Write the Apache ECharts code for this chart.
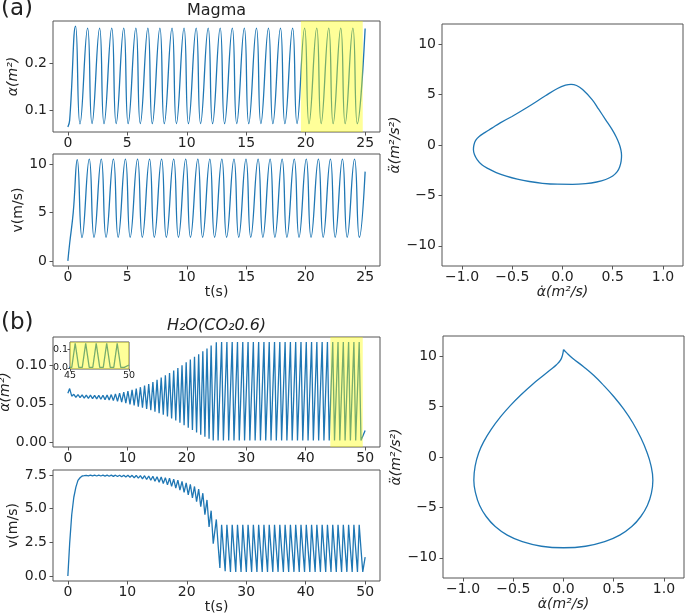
<!DOCTYPE html>
<html><head><meta charset="utf-8">
<script src="https://cdn.jsdelivr.net/npm/echarts@6/dist/echarts.min.js"></script>
<style>html,body{margin:0;padding:0;background:#fff}#c{width:685px;height:614px}</style>
</head><body><div id="c"></div>
<script>
// ---------- (a) Magma : alpha(t) ----------
const aAlphaT = [0, 0.15, 0.65, 1.02, 1.66, 2.03, 2.67, 3.04, 3.69, 4.06, 4.70, 5.07, 5.72, 6.09, 6.73, 7.10, 7.74, 8.11, 8.76, 9.13, 9.77, 10.14, 10.79, 11.16, 11.80, 12.17, 12.81, 13.18, 13.83, 14.20, 14.84, 15.21, 15.86, 16.23, 16.87, 17.24, 17.88, 18.25, 18.90, 19.27, 19.91, 20.28, 20.93, 21.30, 21.94, 22.31, 22.95, 23.32, 23.97, 24.34, 25.00];
const aAlphaV = [0.064, 0.078, 0.279, 0.0705, 0.2745, 0.0712, 0.2745, 0.0712, 0.2745, 0.0712, 0.2745, 0.0712, 0.2745, 0.0712, 0.2745, 0.0712, 0.2745, 0.0712, 0.2745, 0.0712, 0.2745, 0.0712, 0.2745, 0.0712, 0.2745, 0.0712, 0.2745, 0.0712, 0.2745, 0.0712, 0.2745, 0.0712, 0.2745, 0.0712, 0.2745, 0.0712, 0.2745, 0.0712, 0.2745, 0.0712, 0.2745, 0.0712, 0.2745, 0.0712, 0.2745, 0.0712, 0.2745, 0.0712, 0.2745, 0.0712, 0.274];
// ---------- (a) Magma : v(t) ----------
const aVT = [0, 0.15, 0.45, 0.79, 1.19, 1.80, 2.20, 2.81, 3.21, 3.83, 4.23, 4.84, 5.24, 5.86, 6.26, 6.87, 7.27, 7.88, 8.28, 8.90, 9.30, 9.91, 10.31, 10.93, 11.33, 11.94, 12.34, 12.95, 13.35, 13.97, 14.37, 14.98, 15.38, 16.00, 16.40, 17.01, 17.41, 18.02, 18.42, 19.04, 19.44, 20.05, 20.45, 21.07, 21.47, 22.08, 22.48, 23.09, 23.49, 24.11, 24.51, 25.00];
const aVV = [0, 1.8, 5.0, 10.5, 2.42, 10.55, 2.45, 10.55, 2.45, 10.55, 2.45, 10.55, 2.45, 10.55, 2.45, 10.55, 2.45, 10.55, 2.45, 10.55, 2.45, 10.55, 2.45, 10.55, 2.45, 10.55, 2.45, 10.55, 2.45, 10.55, 2.45, 10.55, 2.45, 10.55, 2.45, 10.55, 2.45, 10.55, 2.45, 10.55, 2.45, 10.55, 2.45, 10.55, 2.45, 10.55, 2.45, 10.55, 2.45, 10.55, 2.45, 9.25];
// ---------- (a) phase portrait ----------
const aPhaseX = [-0.503, -0.337, -0.17, -0.05, 0.03, 0.085, 0.14, 0.2, 0.297, 0.36, 0.43, 0.49, 0.535, 0.565, 0.582, 0.588, 0.584, 0.57, 0.545, 0.5, 0.43, 0.34, 0.23, 0.1, -0.05, -0.2, -0.33, -0.45, -0.56, -0.66, -0.74, -0.803, -0.85, -0.877, -0.887, -0.882, -0.865, -0.83, -0.77, -0.703, -0.62, -0.503];
const aPhaseY = [2.83, 3.82, 4.88, 5.6, 5.93, 6.02, 5.9, 5.5, 4.48, 3.55, 2.5, 1.6, 0.8, 0.1, -0.5, -1.05, -1.6, -2.15, -2.65, -3.08, -3.42, -3.67, -3.83, -3.9, -3.89, -3.8, -3.62, -3.38, -3.08, -2.73, -2.35, -1.97, -1.45, -0.95, -0.45, 0.0, 0.45, 0.85, 1.25, 1.67, 2.2, 2.83];

// ---------- (b) H2O(CO2 0.6) : growth phase ----------
const bPreT = [0, 0.30, 0.65, 1.00, 1.35, 1.70, 2.05, 2.40, 2.75, 3.10, 3.45, 3.80, 4.15, 4.50, 4.85, 5.20, 5.55, 5.90, 6.25, 6.60, 6.95, 7.30, 7.65, 8.00, 8.35, 8.70, 9.05, 9.40, 9.75, 10.10, 10.45, 10.80, 11.15, 11.50, 11.85, 12.20, 12.55, 12.90, 13.25, 13.60, 13.95, 14.30, 14.65, 15.00, 15.35, 15.70, 16.05, 16.40, 16.75, 17.10, 17.45, 17.80, 18.15, 18.50, 18.85, 19.20, 19.55, 19.90, 20.25, 20.60, 20.95, 21.30, 21.65, 22.00, 22.35, 22.70, 23.05, 23.40, 23.75, 24.10, 24.45];
const bPreAlpha = [0.064, 0.070, 0.0600, 0.0625, 0.0585, 0.0622, 0.0580, 0.0618, 0.0576, 0.0615, 0.0572, 0.0613, 0.0568, 0.0611, 0.0564, 0.0610, 0.0560, 0.0612, 0.0555, 0.0616, 0.0549, 0.0621, 0.0542, 0.0630, 0.0533, 0.0640, 0.0522, 0.0653, 0.0508, 0.0668, 0.0494, 0.0683, 0.0479, 0.0700, 0.0464, 0.0718, 0.0449, 0.0738, 0.0433, 0.0760, 0.0416, 0.0785, 0.0398, 0.0815, 0.0378, 0.0845, 0.0356, 0.0875, 0.0333, 0.0905, 0.0308, 0.0935, 0.0281, 0.0968, 0.0252, 0.1005, 0.0220, 0.1045, 0.0188, 0.1080, 0.0156, 0.1115, 0.0125, 0.1150, 0.0096, 0.1188, 0.0068, 0.1225, 0.0043, 0.1265, 0.0020];
const bPreV = [0, 2.4, 4.55, 5.85, 6.6, 7.1, 7.3, 7.43, 7.45, 7.48, 7.44, 7.49, 7.44, 7.49, 7.43, 7.49, 7.43, 7.49, 7.42, 7.49, 7.41, 7.49, 7.40, 7.49, 7.39, 7.49, 7.37, 7.49, 7.35, 7.48, 7.33, 7.48, 7.30, 7.47, 7.27, 7.46, 7.22, 7.45, 7.17, 7.43, 7.11, 7.41, 7.04, 7.38, 6.96, 7.35, 6.87, 7.31, 6.77, 7.26, 6.66, 7.20, 6.53, 7.12, 6.38, 7.03, 6.21, 6.92, 6.02, 6.80, 5.80, 6.65, 5.52, 6.45, 5.15, 6.15, 4.55, 5.65, 3.65, 4.85, 2.40];
// ---------- (b) saturated limit cycle ----------
const bPostT = [24.97, 25.27, 25.57, 25.86, 26.16, 26.46, 26.75, 27.05, 27.35, 27.64, 27.94, 28.24, 28.53, 28.83, 29.13, 29.42, 29.72, 30.02, 30.31, 30.61, 30.91, 31.20, 31.50, 31.80, 32.09, 32.39, 32.69, 32.98, 33.28, 33.58, 33.87, 34.17, 34.47, 34.76, 35.06, 35.36, 35.65, 35.95, 36.25, 36.54, 36.84, 37.14, 37.43, 37.73, 38.03, 38.32, 38.62, 38.92, 39.21, 39.51, 39.81, 40.10, 40.40, 40.70, 40.99, 41.29, 41.59, 41.88, 42.18, 42.48, 42.77, 43.07, 43.37, 43.66, 43.96, 44.26, 44.55, 44.85, 45.15, 45.44, 45.74, 46.04, 46.33, 46.63, 46.93, 47.22, 47.52, 47.82, 48.11, 48.41, 48.71, 49.00, 49.30, 49.60, 50.00];
const bPostAlpha = [0.1305, 0.002, 0.002, 0.131, 0.002, 0.002, 0.131, 0.002, 0.002, 0.131, 0.002, 0.002, 0.131, 0.002, 0.002, 0.131, 0.002, 0.002, 0.131, 0.002, 0.002, 0.131, 0.002, 0.002, 0.131, 0.002, 0.002, 0.131, 0.002, 0.002, 0.131, 0.002, 0.002, 0.131, 0.002, 0.002, 0.131, 0.002, 0.002, 0.131, 0.002, 0.002, 0.131, 0.002, 0.002, 0.131, 0.002, 0.002, 0.131, 0.002, 0.002, 0.131, 0.002, 0.002, 0.131, 0.002, 0.002, 0.131, 0.002, 0.002, 0.131, 0.002, 0.002, 0.131, 0.002, 0.002, 0.131, 0.002, 0.002, 0.131, 0.002, 0.002, 0.131, 0.002, 0.002, 0.131, 0.002, 0.002, 0.131, 0.002, 0.002, 0.131, 0.002, 0.002, 0.015];
const bPostV = [4.2, 2.3, 0.6, 3.8, 2.0, 0.35, 3.8, 2.0, 0.3, 3.8, 2.0, 0.3, 3.8, 2.0, 0.3, 3.8, 2.0, 0.3, 3.8, 2.0, 0.3, 3.8, 2.0, 0.3, 3.8, 2.0, 0.3, 3.8, 2.0, 0.3, 3.8, 2.0, 0.3, 3.8, 2.0, 0.3, 3.8, 2.0, 0.3, 3.8, 2.0, 0.3, 3.8, 2.0, 0.3, 3.8, 2.0, 0.3, 3.8, 2.0, 0.3, 3.8, 2.0, 0.3, 3.8, 2.0, 0.3, 3.8, 2.0, 0.3, 3.8, 2.0, 0.3, 3.8, 2.0, 0.3, 3.8, 2.0, 0.3, 3.8, 2.0, 0.3, 3.8, 2.0, 0.3, 3.8, 2.0, 0.3, 3.8, 2.0, 0.3, 3.8, 2.0, 0.3, 1.4];
// ---------- (b) phase portrait (starts and ends at the cusp) ----------
const bPhaseX = [0, 0.03, 0.09, 0.2, 0.3, 0.4, 0.5, 0.6, 0.69, 0.77, 0.83, 0.87, 0.89, 0.875, 0.835, 0.77, 0.68, 0.56, 0.41, 0.22, 0, -0.22, -0.41, -0.56, -0.68, -0.77, -0.835, -0.875, -0.893, -0.88, -0.845, -0.79, -0.72, -0.63, -0.53, -0.42, -0.31, -0.21, -0.13, -0.07, -0.03, -0.01, 0];
const bPhaseY = [10.66, 10.35, 9.8, 8.95, 8.1, 7.1, 6.0, 4.75, 3.4, 1.9, 0.5, -0.8, -2.3, -3.6, -4.8, -5.9, -6.9, -7.75, -8.4, -8.85, -9.0, -8.85, -8.4, -7.75, -6.9, -5.9, -4.8, -3.6, -2.3, -0.9, 0.4, 1.6, 2.75, 3.95, 5.1, 6.2, 7.2, 8.0, 8.65, 9.15, 9.6, 10.1, 10.66];

// ---------- ticks / highlighted windows ----------
const ticksT25 = [0, 5, 10, 15, 20, 25];
const ticksT50 = [0, 10, 20, 30, 40, 50];
const ticksAlphaA = [0.1, 0.2];
const ticksVA = [0, 5, 10];
const ticksAlphaB = [0, 0.05, 0.10];
const ticksVB = [0, 2.5, 5, 7.5];
const ticksPhaseX = [-1, -0.5, 0, 0.5, 1];
const ticksPhaseY = [-10, -5, 0, 5, 10];
const ticksInsetX = [45, 50];
const ticksInsetY = [0, 0.1];
const highlightA = [19.6, 24.8];
const highlightB = [44.15, 49.6];
const insetRange = [45, 50];

const FONT = 'DejaVu Sans';
const TXT = '#222';
const FRAME = '#555';
const BLUE = '#1f77b4';
const YEL = 'rgba(255,255,0,0.4)';

const pairs = (xs, ys) => xs.map((x, i) => [x, ys[i]]);
const minus = s => s.replace('-', '\u2212');
const bT = bPreT.concat(bPostT);
const bAlpha = bPreAlpha.concat(bPostAlpha);
const bV = bPreV.concat(bPostV);

function axis(grid, min, max, ticks, fmt, fs, margin, name, nameGap, italic) {
  const o = {
    type: 'value', gridIndex: grid, min: min, max: max,
    axisLine: { show: false, onZero: false },
    axisTick: { show: true, inside: false, length: fs < 12 ? 2.5 : 3.5, lineStyle: { color: FRAME, width: 1 }, customValues: ticks },
    axisLabel: { show: true, customValues: ticks, formatter: v => minus(fmt(v)), color: TXT, fontFamily: FONT, fontSize: fs, margin: margin },
    splitLine: { show: false }
  };
  if (name) {
    o.name = name; o.nameLocation = 'middle'; o.nameGap = nameGap;
    o.nameTextStyle = { color: TXT, fontFamily: FONT, fontSize: 14, fontStyle: italic ? 'italic' : 'normal' };
  }
  return o;
}
const f0 = v => String(Math.round(v));
const f1 = v => v.toFixed(1);
const f2 = v => v.toFixed(2);

const grid = (l, t, w, h, bg) => ({ left: l, top: t, width: w, height: h, show: true, borderColor: FRAME, borderWidth: 1, backgroundColor: bg || 'transparent', containLabel: false, outerBoundsMode: 'none' });

const ALPHA = '\u03B1(m\u00B2)';
const ADOT = '\u03B1\u0307(m\u00B2/s)';
const ADDOT = '\u03B1\u0308(m\u00B2/s\u00B2)';

function line(xi, data, smooth, z) {
  return {
    type: 'line', xAxisIndex: xi, yAxisIndex: xi, data: data,
    showSymbol: false, symbol: 'none', smooth: smooth, clip: true,
    lineStyle: { color: BLUE, width: 1.3 }, itemStyle: { color: BLUE },
    animation: false, silent: true, z: z || 2
  };
}
// translucent yellow window drawn above the curve, positioned through the axis scale
function band(xi, range, z) {
  return {
    type: 'custom', xAxisIndex: xi, yAxisIndex: xi, silent: true, animation: false, z: z || 10, clip: true,
    data: [[range[0], range[1]]],
    renderItem: function (params, api) {
      const cs = params.coordSys;
      const p0 = api.coord([api.value(0), 0]);
      const p1 = api.coord([api.value(1), 0]);
      return { type: 'rect', shape: { x: p0[0], y: cs.y, width: p1[0] - p0[0], height: cs.height }, style: { fill: YEL } };
    }
  };
}

const option = {
  backgroundColor: '#fff',
  animation: false,
  textStyle: { fontFamily: FONT },
  title: [
    { text: 'Magma', left: 216.5, top: 3, textAlign: 'center', padding: 0, textStyle: { fontSize: 16, fontWeight: 'normal', color: TXT, fontFamily: FONT } },
    { text: 'H\u2082O(CO\u20820.6)', left: 216.5, top: 318, textAlign: 'center', padding: 0, textStyle: { fontSize: 16, fontWeight: 'normal', fontStyle: 'italic', color: TXT, fontFamily: FONT } },
    { text: '(a)', left: 1, top: -2, padding: 0, textStyle: { fontSize: 23, fontWeight: 'normal', color: TXT, fontFamily: FONT } },
    { text: '(b)', left: 1, top: 312, padding: 0, textStyle: { fontSize: 23, fontWeight: 'normal', color: TXT, fontFamily: FONT } }
  ],
  grid: [
    grid(53, 21, 327, 111),
    grid(53, 154, 327, 112),
    grid(442, 24, 241, 242),
    grid(53, 337, 327, 110),
    grid(53, 470, 327, 111),
    grid(443, 336, 241, 242),
    grid(70, 342, 59, 27, '#fff')
  ],
  xAxis: [
    axis(0, -1.25, 26.25, ticksT25, f0, 14, 4),
    axis(1, -1.25, 26.25, ticksT25, f0, 14, 4, 't(s)', 18, false),
    axis(2, -1.2, 1.2, ticksPhaseX, f1, 14, 4, ADOT, 18, true),
    axis(3, -2.5, 52.5, ticksT50, f0, 14, 4),
    axis(4, -2.5, 52.5, ticksT50, f0, 14, 4, 't(s)', 17, false),
    axis(5, -1.2, 1.2, ticksPhaseX, f1, 14, 4, ADOT, 18, true),
    axis(6, insetRange[0], insetRange[1], ticksInsetX, f0, 9.5, 2)
  ],
  yAxis: [
    axis(0, 0.0533, 0.2898, ticksAlphaA, f1, 14, 6, ALPHA, 32, true),
    axis(1, -0.5275, 11.0775, ticksVA, f0, 14, 6, 'v(m/s)', 23, false),
    axis(2, -12, 12, ticksPhaseY, f0, 14, 6, ADDOT, 29, true),
    axis(3, -0.00655, 0.13755, ticksAlphaB, f2, 14, 6, ALPHA, 34, true),
    axis(4, -0.375, 7.875, ticksVB, f1, 14, 6, 'v(m/s)', 28, false),
    axis(5, -12, 12, ticksPhaseY, f0, 14, 6, ADDOT, 30, true),
    axis(6, -0.00655, 0.13755, ticksInsetY, f1, 9.5, 2)
  ],
  series: [
    line(0, pairs(aAlphaT, aAlphaV), 0.5),
    band(0, highlightA),
    line(1, pairs(aVT, aVV), 0.5),
    line(2, pairs(aPhaseX, aPhaseY), 0.4),
    line(3, pairs(bT, bAlpha), false),
    band(3, highlightB),
    line(4, pairs(bT, bV), false),
    line(5, pairs(bPhaseX, bPhaseY), 0.45),
    line(6, pairs(bT, bAlpha), false, 12),
    band(6, insetRange, 14)
  ]
};
const chart = echarts.init(document.getElementById('c'), null, { renderer: 'canvas', width: 685, height: 614 });
chart.setOption(option);
</script>
</body></html>
